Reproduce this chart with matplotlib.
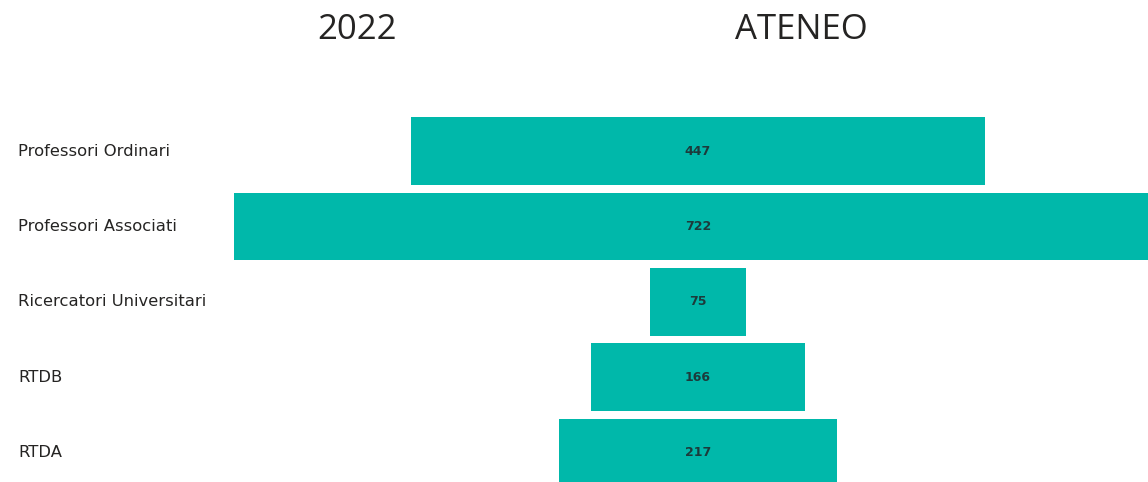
import matplotlib.pyplot as plt
import matplotlib.transforms as mtransforms

categories = [
    "Professori Ordinari",
    "Professori Associati",
    "Ricercatori Universitari",
    "RTDB",
    "RTDA",
]
values = [447, 722, 75, 166, 217]

BAR_COLOR = "#00B8AA"

fig = plt.figure(figsize=(11.48, 4.82), dpi=100)
fig.patch.set_facecolor("white")
ax = fig.add_axes([0, 0, 1, 1])

# funnel: bars centred on zero
lefts = [-v / 2 for v in values]
ax.barh(range(len(values)), values, left=lefts, height=0.895, color=BAR_COLOR)

for i, v in enumerate(values):
    ax.text(0, i, str(v), ha="center", va="center", fontsize=9,
            color="#1c3b3b", family="DejaVu Sans", fontweight="semibold")

trans = mtransforms.blended_transform_factory(fig.transFigure, ax.transData)
for i, c in enumerate(categories):
    ax.text(18 / 1148, i, c, transform=trans, ha="left", va="center",
            fontsize=11.8, color="#252423", family="DejaVu Sans")

ax.set_xlim(-543.6, 350.5)
ax.set_ylim(4.39, -2.003)
ax.axis("off")

fig.text(357 / 1148, 1 - 30 / 482, "2022", ha="center", va="center",
         fontsize=25, color="#252423", family="Open Sans")
fig.text(801 / 1148, 1 - 30 / 482, "ATENEO", ha="center", va="center",
         fontsize=25, color="#252423", family="Open Sans")

fig.savefig("out.png", dpi=100, facecolor="white")
